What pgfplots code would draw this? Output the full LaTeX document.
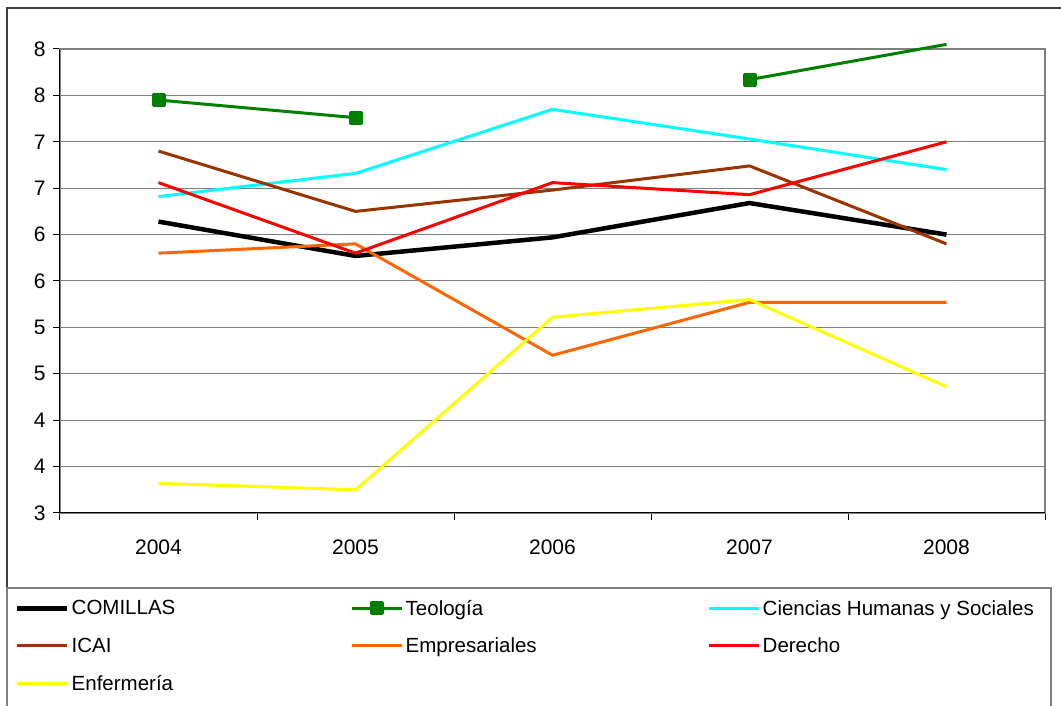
\documentclass[border=0pt]{standalone}
\usepackage{fontspec}
\setmainfont{Liberation Sans}
\usepackage{pgfplots}
\pgfplotsset{compat=1.18}
\definecolor{teo}{HTML}{008000}
\definecolor{chs}{HTML}{00FFFF}
\definecolor{icai}{HTML}{993300}
\definecolor{emp}{HTML}{FF6600}
\definecolor{der}{HTML}{FF0000}
\definecolor{enf}{HTML}{FFFF00}
\definecolor{grd}{HTML}{808080}
\begin{document}
\begin{tikzpicture}[x=1pt,y=1pt]
\useasboundingbox (0,0) rectangle (1061,706);
\fill[white] (0,0) rectangle (1061,706);
\draw[black!75, line width=2pt] (7,-10) -- (7,698) -- (1075,698);
\draw[grd, line width=1.5pt] (7,-10) -- (7,118) -- (1051,118) -- (1051,-10);
\begin{axis}[
  at={(60pt,193pt)}, anchor=south west,
  scale only axis, width=985pt, height=464pt,
  xmin=-0.5, xmax=4.5, ymin=3, ymax=8,
  clip=false,
  /pgf/number format/assume math mode=true,
  tick label style={font=\fontsize{21}{25}\selectfont},
  yticklabel style={xshift=-4pt},
  xtick={-0.5,0.5,1.5,2.5,3.5,4.5}, xticklabels={},
  extra x ticks={0,1,2,3,4},
  extra x tick labels={2004,2005,2006,2007,2008},
  extra x tick style={major tick length=0pt, xticklabel style={yshift=-23pt}},
  ytick={3,3.5,...,8}, yticklabels={3,4,4,5,5,6,6,7,7,8,8},
  ymajorgrids, major grid style={grd, line width=1pt},
  tick align=outside, xtick pos=bottom, ytick pos=left,
  major tick length=7pt, tick style={black, line width=1pt},
  axis line style={grd, line width=1.5pt},
  unbounded coords=jump,
  every axis plot/.append style={line join=round},
  legend columns=3,
  legend cell align=left,
  legend style={draw=none, fill=none, at={(axis description cs:-0.0487,-0.1786)}, anchor=north west,
    font=\fontsize{20.5}{24}\selectfont, row sep=17pt, column sep=0pt,
    nodes={inner sep=2pt}},
  legend image code/.code={\draw[#1] plot coordinates {(0pt,0pt) (25pt,0pt) (50pt,0pt)};},
]
\draw[black, line width=1pt] (rel axis cs:0,1) -- (rel axis cs:0,0) -- (rel axis cs:1,0);
\addplot[black, line width=4.5pt] coordinates {(0,6.14) (1,5.77) (2,5.97) (3,6.34) (4,6.00)};
\addlegendentry{\makebox[277pt][l]{COMILLAS}}
\addplot[teo, line width=3pt, forget plot] coordinates {(3,7.67) (4,8.05)};
\addplot[teo, line width=3pt, mark=square*, mark size=5.5pt, mark options={solid, fill=teo}, legend image post style={mark indices={2}}] coordinates {(0,7.45) (1,7.26) (2,nan) (3,7.67)};
\addlegendentry{\makebox[300pt][l]{Teología}}
\addplot[chs, line width=3pt] coordinates {(0,6.41) (1,6.66) (2,7.35) (3,7.03) (4,6.70)};
\addlegendentry{Ciencias Humanas y Sociales}
\addplot[icai, line width=3pt] coordinates {(0,6.90) (1,6.25) (2,6.48) (3,6.74) (4,5.90)};
\addlegendentry{\makebox[277pt][l]{ICAI}}
\addplot[emp, line width=3pt] coordinates {(0,5.80) (1,5.90) (2,4.70) (3,5.27) (4,5.27)};
\addlegendentry{\makebox[300pt][l]{Empresariales}}
\addplot[der, line width=3pt] coordinates {(0,6.56) (1,5.80) (2,6.56) (3,6.43) (4,7.00)};
\addlegendentry{Derecho}
\addplot[enf, line width=3pt] coordinates {(0,3.32) (1,3.25) (2,5.11) (3,5.30) (4,4.36)};
\addlegendentry{Enfermería}
\end{axis}
\end{tikzpicture}
\end{document}
